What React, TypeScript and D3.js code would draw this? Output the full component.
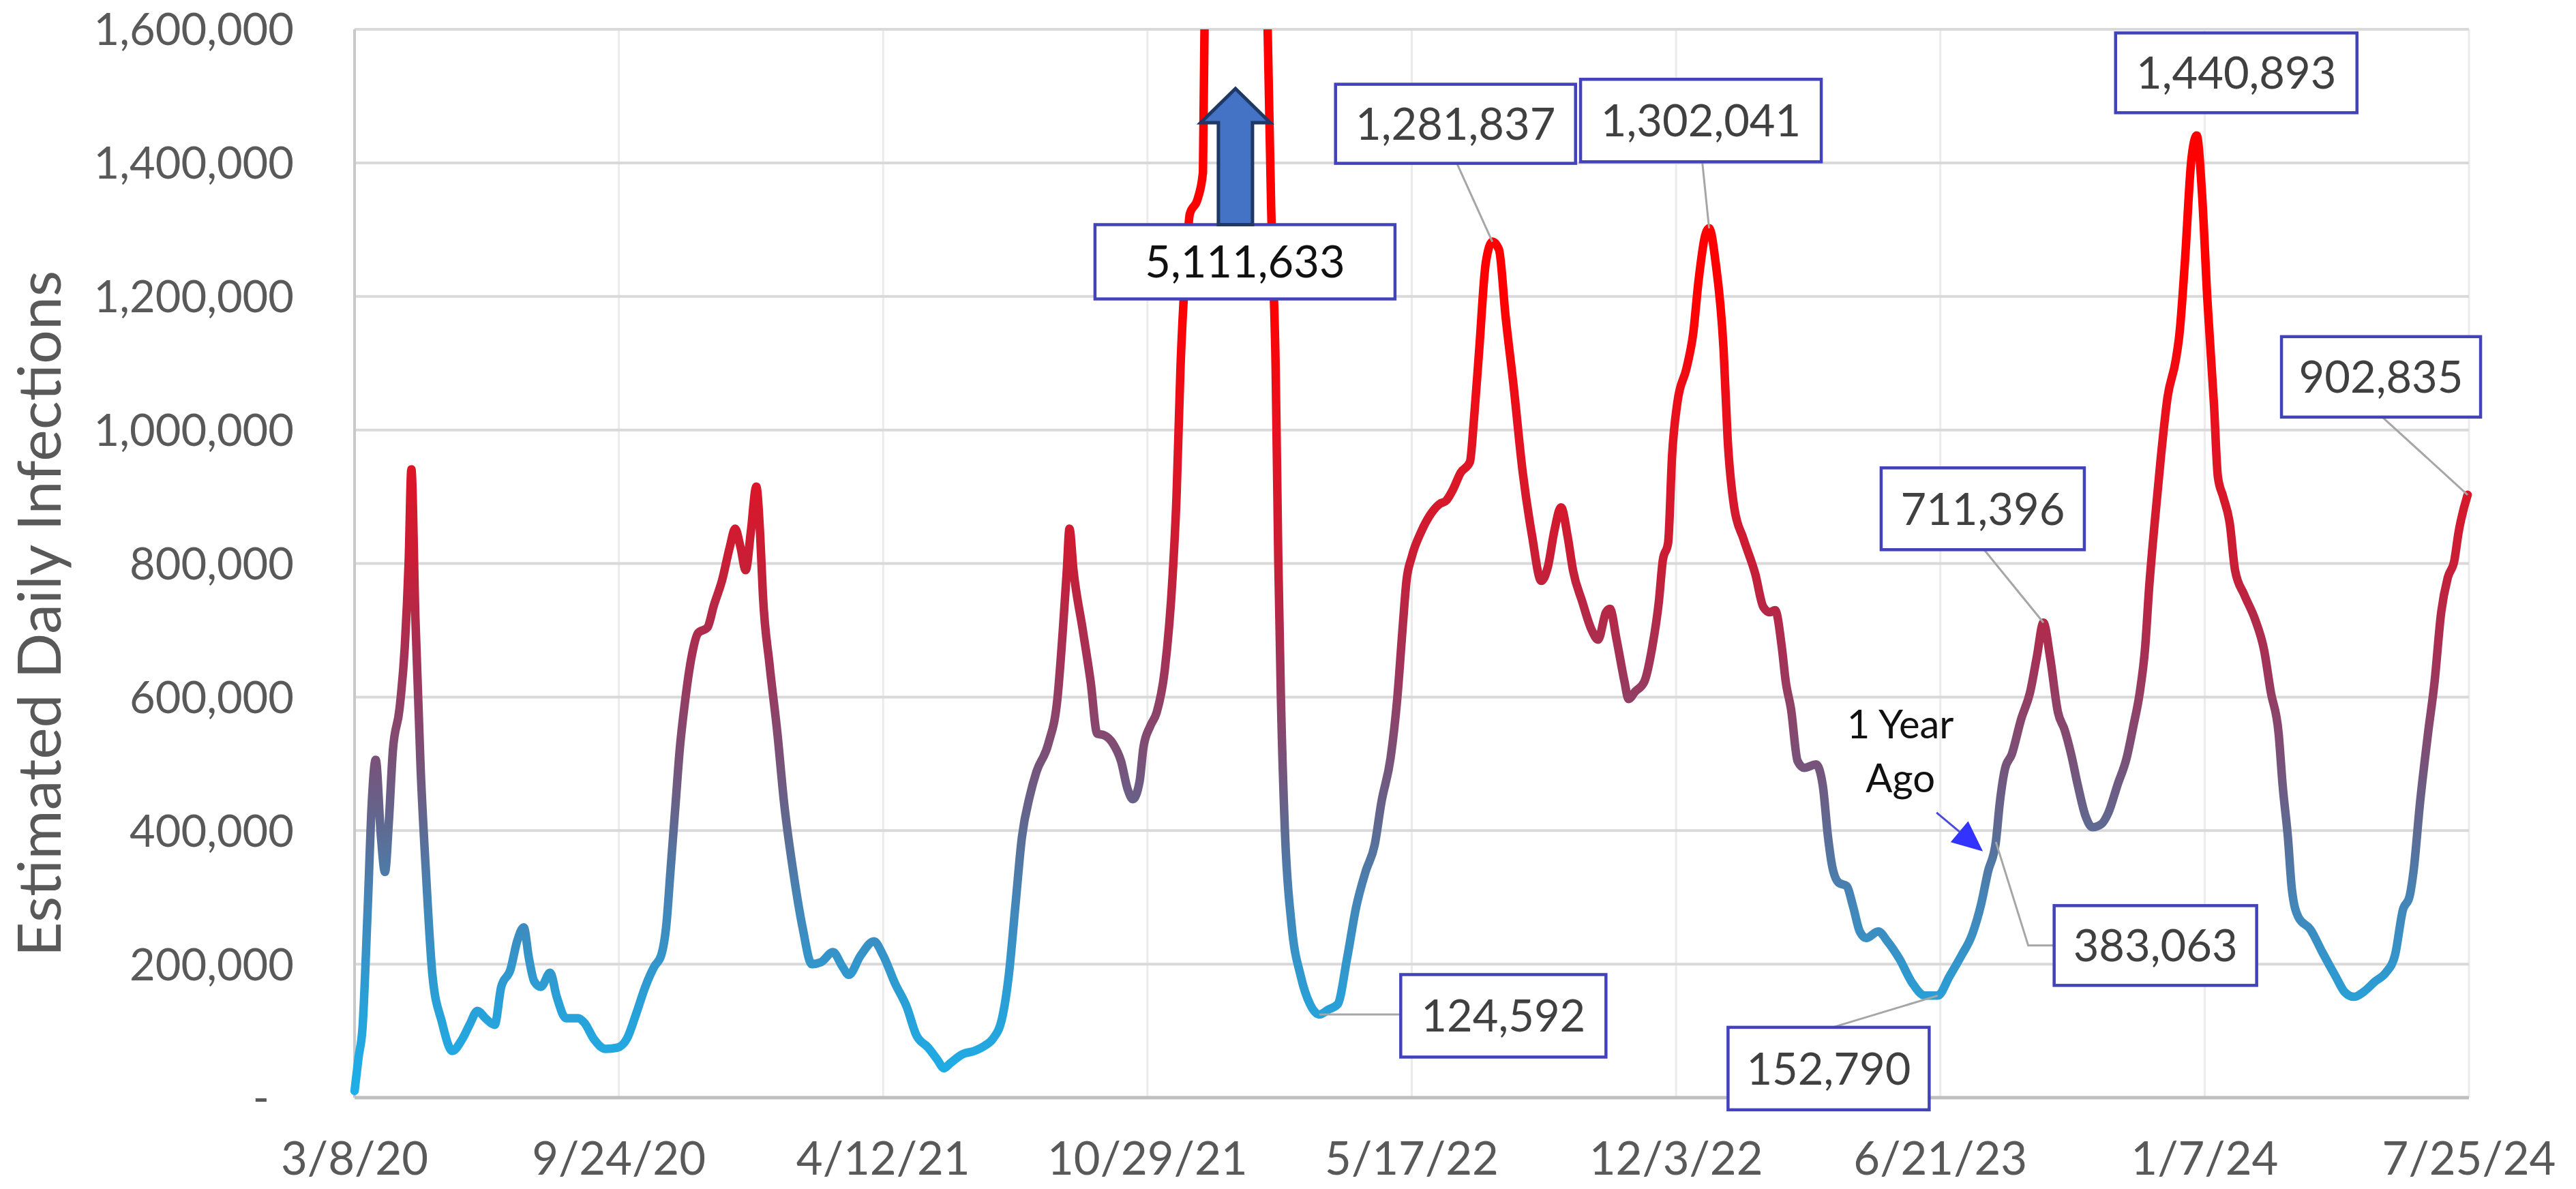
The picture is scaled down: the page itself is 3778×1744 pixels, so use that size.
import React from "react";
import * as d3 from "d3";

// days since 3/8/20 and the estimated daily infections on that day
const startDate = new Date(2020, 2, 8);
const dayOffsets = [
  0, 3, 6, 10, 13, 16, 20, 23, 26, 29, 34, 38, 41, 43, 46, 50, 54, 59, 66, 74,
  81, 87, 93, 99, 106, 111, 118, 123, 128, 132, 136, 141, 148, 153, 160, 169, 174, 181, 190, 199,
  206, 213, 220, 227, 232, 236, 239, 243, 246, 250, 255, 260, 267, 272, 278, 284, 288, 292, 296, 300,
  304, 307, 309, 314, 320, 325, 332, 339, 346, 353, 362, 369, 374, 383, 393, 400, 409, 418, 425, 434,
  441, 446, 451, 460, 469, 477, 483, 490, 495, 500, 505, 511, 516, 525, 532, 536, 539, 541, 544, 551,
  557, 562, 567, 574, 580, 585, 589, 594, 597, 602, 607, 613, 619, 622, 625, 630, 632, 638, 642, 648,
  655, 664, 673, 682, 687, 694, 697, 699, 701, 704, 709, 716, 723, 730, 737, 744, 751, 758, 765, 772,
  777, 784, 789, 793, 796, 800, 807, 814, 821, 826, 831, 837, 844, 847, 851, 856, 861, 866, 871, 877,
  884, 891, 898, 903, 908, 913, 918, 922, 929, 936, 941, 947, 950, 955, 961, 964, 969, 976, 982, 987,
  990, 994, 997, 1001, 1008, 1013, 1017, 1022, 1025, 1030, 1036, 1039, 1044, 1051, 1060, 1066, 1071, 1075, 1080, 1083,
  1087, 1092, 1097, 1106, 1111, 1115, 1118, 1123, 1129, 1134, 1139, 1144, 1153, 1160, 1169, 1179, 1188, 1198, 1207, 1216,
  1224, 1231, 1236, 1242, 1245, 1249, 1254, 1261, 1268, 1273, 1278, 1283, 1289, 1294, 1299, 1304, 1310, 1315, 1322, 1327,
  1334, 1341, 1346, 1351, 1355, 1358, 1362, 1367, 1372, 1378, 1381, 1385, 1390, 1394, 1398, 1402, 1407, 1410, 1414, 1419,
  1423, 1430, 1438, 1445, 1450, 1456, 1459, 1463, 1466, 1471, 1480, 1489, 1499, 1506, 1513, 1520, 1529, 1537, 1544, 1550,
  1555, 1558, 1563, 1569, 1574, 1579, 1584, 1589, 1592, 1599,
];
const infections = [
  10000, 60000, 104000, 286000, 440000, 506000, 390000, 338000, 415000, 520000, 582000, 675000, 805000, 941000, 720000, 493000, 338000, 182000, 114000, 70000,
  86000, 109000, 130000, 119000, 109000, 166000, 192000, 234000, 255000, 208000, 174000, 166000, 187000, 151000, 119000, 119000, 112000, 88000, 73000, 75000,
  88000, 125000, 166000, 197000, 213000, 260000, 338000, 442000, 520000, 592000, 660000, 696000, 704000, 738000, 774000, 825000, 852000, 825000, 790000, 850000,
  915000, 840000, 753000, 649000, 545000, 442000, 338000, 255000, 200000, 203000, 218000, 197000, 184000, 213000, 234000, 213000, 171000, 135000, 94000, 75000,
  57000, 44000, 52000, 65000, 70000, 78000, 88000, 119000, 182000, 286000, 390000, 452000, 488000, 530000, 600000, 701000, 790000, 852000, 790000, 701000,
  623000, 545000, 543000, 530000, 504000, 462000, 447000, 473000, 525000, 556000, 577000, 639000, 780000, 900000, 1093000, 1276000, 1323000, 1346000, 1386000, 2600000,
  4000000, 5111633, 4400000, 2900000, 2000000, 1302000, 1093000, 805000, 597000, 400000, 260000, 182000, 140000, 124592, 132000, 140000, 208000, 286000, 338000, 379000,
  442000, 509000, 597000, 701000, 774000, 810000, 847000, 873000, 889000, 894000, 910000, 936000, 952000, 1014000, 1119000, 1250000, 1281837, 1270000, 1170000, 1067000,
  936000, 842000, 774000, 795000, 850000, 884000, 840000, 790000, 743000, 701000, 686000, 727000, 732000, 686000, 623000, 597000, 608000, 623000, 675000, 743000,
  805000, 831000, 962000, 1041000, 1093000, 1145000, 1223000, 1291000, 1302041, 1250000, 1119000, 988000, 884000, 837000, 784000, 735000, 727000, 730000, 675000, 623000,
  582000, 504000, 494000, 499000, 468000, 390000, 348000, 322000, 317000, 286000, 249000, 239000, 249000, 234000, 208000, 171000, 153000, 152790, 182000, 213000,
  244000, 291000, 338000, 383063, 442000, 493000, 514000, 566000, 608000, 660000, 711396, 660000, 577000, 551000, 514000, 468000, 421000, 405000, 410000, 426000,
  468000, 509000, 556000, 608000, 675000, 764000, 857000, 962000, 1050000, 1103000, 1145000, 1250000, 1406000, 1440893, 1354000, 1197000, 1040000, 930000, 900000, 860000,
  790000, 753000, 717000, 670000, 608000, 545000, 468000, 390000, 312000, 270000, 252000, 218000, 182000, 158000, 151000, 158000, 174000, 187000, 213000, 281000,
  301000, 338000, 442000, 545000, 623000, 727000, 779000, 805000, 845000, 902835,
];

const xTickLabels = ["3/8/20", "9/24/20", "4/12/21", "10/29/21", "5/17/22", "12/3/22", "6/21/23", "1/7/24", "7/25/24"];
const yTicks = [0, 200000, 400000, 600000, 800000, 1000000, 1200000, 1400000, 1600000];

// callouts: anchor point on the series, box offset from it
const callouts = [
  { label: "1,281,837", day: 861, value: 1281837, dx: -54, dy: -173, w: 352, h: 116, leader: "bottom" },
  { label: "1,302,041", day: 1025, value: 1302041, dx: -12, dy: -158, w: 353, h: 121, leader: "bottom" },
  { label: "1,440,893", day: 1394, value: 1440893, dx: 58, dy: -92, w: 354, h: 117, leader: "none" },
  { label: "711,396", day: 1278, value: 711396, dx: -89, dy: -167, w: 298, h: 120, leader: "bottom" },
  { label: "902,835", day: 1599, value: 902835, dx: -127, dy: -173, w: 292, h: 118, leader: "bottom" },
  { label: "383,063", day: 1242, value: 383063, dx: 234, dy: 152, w: 297, h: 117, leader: "elbow" },
  { label: "152,790", day: 1198, value: 152790, dx: -160, dy: 107, w: 295, h: 121, leader: "top" },
  { label: "124,592", day: 730, value: 124592, dx: 270, dy: 2, w: 301, h: 121, leader: "side" },
];

const colorStops: [number, string][] = [
  [0, "#1cb0ea"],
  [150000, "#2a9fd6"],
  [300000, "#4584b6"],
  [400000, "#5d6b93"],
  [500000, "#77537a"],
  [650000, "#a23358"],
  [800000, "#c81e36"],
  [1000000, "#e6121f"],
  [1200000, "#ff0000"],
];

const W = 3778;
const H = 1744;
const margin = { top: 43, right: 157, bottom: 134, left: 520 };
const font = "Lato, 'Open Sans', sans-serif";

export default function App() {
  const parse = d3.timeParse("%m/%d/%y");
  const tickDates = xTickLabels.map((s) => parse(s) as Date);

  const x = d3
    .scaleTime()
    .domain([startDate, tickDates[tickDates.length - 1]])
    .range([margin.left, W - margin.right]);
  const y = d3
    .scaleLinear()
    .domain([0, 1600000])
    .range([H - margin.bottom, margin.top]);

  const data = dayOffsets.map((d, i) => ({ date: d3.timeDay.offset(startDate, d), value: infections[i] }));
  const line = d3
    .line<{ date: Date; value: number }>()
    .x((d) => x(d.date))
    .y((d) => y(d.value))
    .curve(d3.curveMonotoneX);

  const fmt = d3.format(",");
  const gTop = y(1200000);
  const gBot = y(0);

  // the off-scale Omicron peak
  const spikeDay = 664;
  const sx = x(d3.timeDay.offset(startDate, spikeDay));
  const sy = y(1600000);
  const spikeBox = { cx: sx + 19, cy: sy + 341, w: 440, h: 109 };
  const arrowX = spikeBox.cx - 14;
  const arrowTip = sy + 87;
  const arrowHeadBase = sy + 137;
  const boxTop = spikeBox.cy - spikeBox.h / 2;

  // "1 Year Ago" marker
  const yearAgo = callouts.find((c) => c.label === "383,063")!;
  const yax = x(d3.timeDay.offset(startDate, yearAgo.day));
  const yay = y(yearAgo.value);
  const tail = [yax - 87, yay - 43];
  const tip = [yax - 19, yay + 14];
  const len = Math.hypot(tip[0] - tail[0], tip[1] - tail[1]);
  const ux = (tip[0] - tail[0]) / len;
  const uy = (tip[1] - tail[1]) / len;
  const hb = [tip[0] - ux * 45, tip[1] - uy * 45];
  const head = [
    tip,
    [hb[0] - uy * 20, hb[1] + ux * 20],
    [hb[0] + uy * 20, hb[1] - ux * 20],
  ];

  return (
    <div style={{ position: "fixed", left: 0, top: 0 }}>
      <svg width={W} height={H} style={{ display: "block", background: "#fff" }}>
        <defs>
          <linearGradient id="lineGrad" gradientUnits="userSpaceOnUse" x1={0} x2={0} y1={gBot} y2={gTop}>
            {colorStops.map(([v, c]) => (
              <stop key={v} offset={v / 1200000} stopColor={c} />
            ))}
          </linearGradient>
          <clipPath id="plotClip">
            <rect x={margin.left - 20} y={margin.top} width={W - margin.left - margin.right + 40} height={H - margin.top - margin.bottom + 30} />
          </clipPath>
        </defs>

        {/* vertical gridlines */}
        {tickDates.map((d, i) => (
          <line key={"vx" + i} x1={x(d)} x2={x(d)} y1={y(1600000)} y2={y(0)} stroke="#ebebeb" strokeWidth={3} />
        ))}
        {/* horizontal gridlines */}
        {yTicks.slice(1).map((v) => (
          <line key={"hy" + v} x1={margin.left} x2={W - margin.right} y1={y(v)} y2={y(v)} stroke="#d9d9d9" strokeWidth={4} />
        ))}
        <line x1={margin.left} x2={margin.left} y1={y(1600000)} y2={y(0)} stroke="#c8c8c8" strokeWidth={4} />
        <line x1={margin.left} x2={W - margin.right} y1={y(0)} y2={y(0)} stroke="#bfbfbf" strokeWidth={5} />

        {/* y tick labels */}
        {yTicks.map((v) => (
          <text
            key={"yl" + v}
            x={v === 0 ? 395 : 431}
            y={y(v)}
            dy="0.36em"
            textAnchor="end"
            fontFamily={font}
            fontSize={65}
            fill="#595959"
          >
            {v === 0 ? "-" : fmt(v)}
          </text>
        ))}
        {/* x tick labels */}
        {tickDates.map((d, i) => (
          <text key={"xl" + i} x={x(d)} y={1723} textAnchor="middle" fontFamily={font} fontSize={67} fill="#595959">
            {xTickLabels[i]}
          </text>
        ))}
        <text
          transform={`translate(58, 900) rotate(-90)`}
          textAnchor="middle"
          dy="0.35em"
          fontFamily={font}
          fontSize={88}
          fill="#595959"
        >
          Estimated Daily Infections
        </text>

        {/* series */}
        <g clipPath="url(#plotClip)">
          <path
            d={line(data) || ""}
            fill="none"
            stroke="url(#lineGrad)"
            strokeWidth={12.5}
            strokeLinejoin="round"
            strokeLinecap="round"
          />
        </g>

        {/* leader lines */}
        {callouts.map((c) => {
          const ax = x(d3.timeDay.offset(startDate, c.day));
          const ay = y(c.value);
          const cx = ax + c.dx;
          const cy = ay + c.dy;
          let pts: number[][] = [];
          if (c.leader === "bottom") pts = [[cx + 2, cy + c.h / 2], [ax, ay]];
          if (c.leader === "top") pts = [[cx + 6, cy - c.h / 2], [ax, ay]];
          if (c.leader === "side") pts = [[ax, ay], [cx - c.w / 2, ay]];
          if (c.leader === "elbow") pts = [[ax, ay], [cx - c.w / 2 - 38, cy], [cx - c.w / 2, cy]];
          if (!pts.length) return null;
          return (
            <polyline key={"ld" + c.label} points={pts.map((p) => p.join(",")).join(" ")} fill="none" stroke="#a6a6a6" strokeWidth={3} />
          );
        })}

        {/* callout boxes */}
        {callouts.map((c) => {
          const cx = x(d3.timeDay.offset(startDate, c.day)) + c.dx;
          const cy = y(c.value) + c.dy;
          return (
            <g key={"bx" + c.label}>
              <rect x={cx - c.w / 2} y={cy - c.h / 2} width={c.w} height={c.h} fill="#fff" stroke="#4242bb" strokeWidth={4.5} />
              <text x={cx} y={cy} dy="0.36em" textAnchor="middle" fontFamily={font} fontSize={65} fill="#404040">
                {c.label}
              </text>
            </g>
          );
        })}

        {/* spike box and arrow */}
        <rect
          x={spikeBox.cx - spikeBox.w / 2}
          y={boxTop}
          width={spikeBox.w}
          height={spikeBox.h}
          fill="#fff"
          stroke="#4242bb"
          strokeWidth={4.5}
        />
        <text x={spikeBox.cx} y={spikeBox.cy} dy="0.36em" textAnchor="middle" fontFamily={font} fontSize={65} fill="#111">
          {fmt(infections[dayOffsets.indexOf(spikeDay)])}
        </text>
        <polygon
          points={[
            [arrowX - 25, boxTop],
            [arrowX - 25, arrowHeadBase],
            [arrowX - 51, arrowHeadBase],
            [arrowX, arrowTip],
            [arrowX + 51, arrowHeadBase],
            [arrowX + 25, arrowHeadBase],
            [arrowX + 25, boxTop],
          ]
            .map((p) => p.join(","))
            .join(" ")}
          fill="#4472c4"
          stroke="#1f3864"
          strokeWidth={5}
          strokeLinejoin="miter"
        />

        {/* 1 Year Ago */}
        <text x={yax - 140} y={yay - 152} textAnchor="middle" fontFamily={font} fontSize={58} fill="#111">
          1 Year
        </text>
        <text x={yax - 140} y={yay - 73} textAnchor="middle" fontFamily={font} fontSize={58} fill="#111">
          Ago
        </text>
        <line x1={tail[0]} y1={tail[1]} x2={hb[0]} y2={hb[1]} stroke="#4a4ad8" strokeWidth={3} />
        <polygon points={head.map((p) => p.join(",")).join(" ")} fill="#3333ff" />
      </svg>
    </div>
  );
}
